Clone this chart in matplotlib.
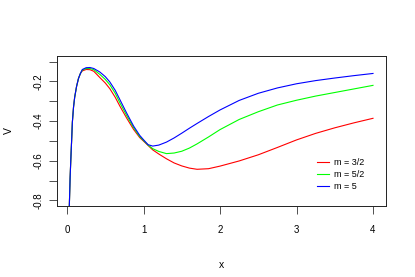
import numpy as np
import matplotlib
matplotlib.use("Agg")
import matplotlib.pyplot as plt

plt.rcParams['font.family'] = ['Liberation Sans', 'DejaVu Sans']

# values
x = [0.02, 0.03, 0.04, 0.05, 0.06, 0.07, 0.085, 0.1, 0.125, 0.15, 0.175, 0.2,
     0.25, 0.3, 0.35, 0.43, 0.5, 0.56, 0.63, 0.69, 0.78, 0.87, 0.95, 1.0,
     1.06, 1.12, 1.2, 1.3, 1.4, 1.5, 1.6, 1.7, 1.85, 2.0, 2.25, 2.5, 2.75,
     3.0, 3.25, 3.5, 3.75, 4.0]

rise = [-1.2, -0.83, -0.69, -0.59, -0.50, -0.405, -0.33, -0.28, -0.225, -0.185, -0.16]

v_32 = rise + [-0.147, -0.140, -0.141, -0.149, -0.181, -0.208, -0.237, -0.280,
               -0.324, -0.385, -0.442, -0.483, -0.501, -0.523, -0.545, -0.566,
               -0.590, -0.611, -0.626, -0.637, -0.643, -0.640, -0.627, -0.601,
               -0.570, -0.533, -0.495, -0.462, -0.434, -0.409, -0.386]
v_52 = rise + [-0.143, -0.135, -0.135, -0.141, -0.165, -0.190, -0.217, -0.260,
               -0.307, -0.372, -0.433, -0.478, -0.498, -0.521, -0.539, -0.553,
               -0.564, -0.561, -0.552, -0.536, -0.515, -0.480, -0.443, -0.392,
               -0.353, -0.319, -0.295, -0.274, -0.256, -0.238, -0.220]
v_5 = rise + [-0.140, -0.131, -0.130, -0.135, -0.153, -0.176, -0.203, -0.245,
              -0.291, -0.360, -0.425, -0.472, -0.494, -0.519, -0.526, -0.521,
              -0.506, -0.485, -0.461, -0.436, -0.412, -0.377, -0.344, -0.296,
              -0.260, -0.233, -0.212, -0.196, -0.183, -0.171, -0.160]

labels = ["m = 3/2", "m = 5/2", "m = 5"]
colors = ["#FF0000", "#00FF00", "#0000FF"]

fig = plt.figure(figsize=(4.15, 2.77), dpi=100)
ax = fig.add_axes([57/415, 1-206/277, 329/415, 150/277])

for v, lab, c in zip([v_32, v_52, v_5], labels, colors):
    ax.plot(x, v, color=c, lw=0.8, label=lab)

ax.set_xlim(-0.131, 4.17)
ax.set_ylim(-0.828, -0.072)
ax.set_xticks([0, 1, 2, 3, 4])
yt = [-0.8, -0.7, -0.6, -0.5, -0.4, -0.3, -0.2, -0.1]
ax.set_yticks(yt)
ax.set_yticklabels(["-0.8", "", "-0.6", "", "-0.4", "", "-0.2", ""],
                   rotation=90, va='center')
ax.tick_params(axis='both', direction='out', length=5.5, width=0.6,
               labelsize=7, color='#333333')
ax.tick_params(axis='x', pad=8)
ax.tick_params(axis='y', pad=4.5)
for s in ax.spines.values():
    s.set_linewidth(0.7)
    s.set_color('#222222')

fig.text(221/415, 1-265/277, "x", ha='center', va='center', fontsize=7.5)
fig.text(9/415, 1-131/277, "V", ha='center', va='center', fontsize=7.5, rotation=90)

ax.legend(loc='upper left', bbox_to_anchor=((317-57)/329, (206-158)/150),
          frameon=False, fontsize=6.5, handlelength=1.3, handletextpad=0.55,
          labelspacing=0.35, borderaxespad=0, borderpad=0)

fig.savefig("out.png", dpi=100)
